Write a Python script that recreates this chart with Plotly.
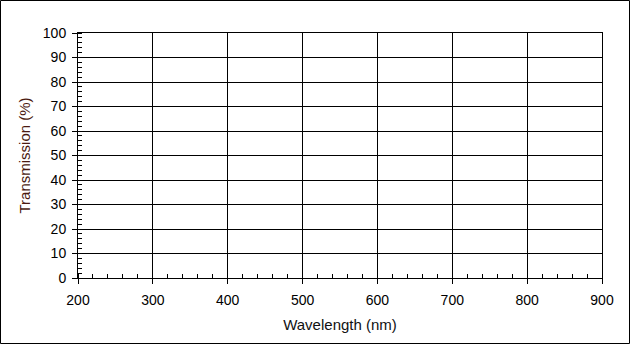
import plotly.graph_objects as go

x_ticks = [200, 300, 400, 500, 600, 700, 800, 900]
y_ticks = [0, 10, 20, 30, 40, 50, 60, 70, 80, 90, 100]
wavelength = []
transmission = []

W, H = 630, 344
L, R, T, B = 78, 28, 33, 66
pw, ph = W - L - R, H - T - B

fig = go.Figure()
fig.add_trace(go.Scatter(x=wavelength, y=transmission, mode="lines",
                         line=dict(color="black"), showlegend=False))

font = "Liberation Sans, Arial, sans-serif"
ytitle_color = "#4a1a10"

fig.update_layout(
    width=W, height=H,
    margin=dict(l=L, r=R, t=T, b=B, pad=0),
    paper_bgcolor="white", plot_bgcolor="white",
    font=dict(family=font, size=14, color="black"),
    showlegend=False,
    xaxis=dict(
        range=[x_ticks[0], x_ticks[-1]], tickvals=x_ticks,
        showgrid=True, gridcolor="black", gridwidth=1,
        showline=True, linecolor="black", linewidth=1, mirror=True,
        ticks="outside", ticklen=5, tickcolor="black", tickwidth=1,
        minor=dict(dtick=20, ticks="inside", ticklen=4, tickcolor="black", showgrid=False),
        zeroline=False, tickfont=dict(size=14), ticklabelstandoff=4,
        title=dict(text="Wavelength (nm)", font=dict(size=15, color="#111111"), standoff=12),
    ),
    yaxis=dict(
        range=[y_ticks[0], y_ticks[-1]], tickvals=y_ticks,
        showgrid=True, gridcolor="black", gridwidth=1,
        showline=True, linecolor="black", linewidth=1, mirror=True,
        ticks="outside", ticklen=5, tickcolor="black", tickwidth=1,
        minor=dict(dtick=2, ticks="inside", ticklen=4, tickcolor="black", showgrid=False),
        zeroline=False, tickfont=dict(size=14), ticklabelstandoff=3,
        title=dict(text="Transmission (%)", font=dict(size=15, color=ytitle_color), standoff=8),
    ),
)

fig.add_shape(type="rect", xref="paper", yref="paper",
              x0=(0.5 - L) / pw, x1=(W - 0.5 - L) / pw,
              y0=(H - B - (H - 0.5)) / ph, y1=(H - B - 0.5) / ph,
              line=dict(color="black", width=1), fillcolor="rgba(0,0,0,0)", layer="below")

fig.write_html("out.html", config={"displayModeBar": False},
               post_script="document.body.style.margin='0';document.body.style.overflow='hidden';")
